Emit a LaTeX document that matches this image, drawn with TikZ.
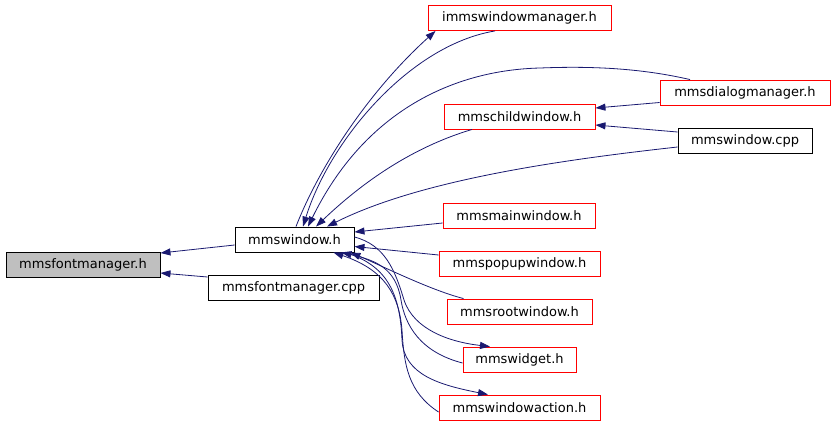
\documentclass[tikz,border=0pt]{standalone}
\usepackage{fontspec}
\setmainfont{DejaVu Sans}
\usepackage{tikz}
\usetikzlibrary{arrows.meta,positioning}
\definecolor{edgeblue}{HTML}{191970}
\definecolor{fillgray}{HTML}{BFBFBF}

\begin{document}
\begin{tikzpicture}[
   x=1pt, y=-1pt,
   file/.style={draw=red, line width=0.9pt, inner sep=0pt, minimum height=25pt,
                font=\fontsize{13}{15}\selectfont},
   doc/.style={file, draw=black},
   inc/.style={-{Triangle[length=10pt,width=7pt]}, draw=edgeblue, fill=none,
               line width=0.8pt}]
  \useasboundingbox (0,0) rectangle (835,424);
  \node[doc, fill=fillgray, minimum width=154pt] (fm)  at (83,264.5)   {mmsfontmanager.h};
  \node[doc, minimum width=119pt]  (win)    at (294.5,239.5) {mmswindow.h};
  \node[doc, minimum width=171pt]  (fmcpp)  at (293.5,288)   {mmsfontmanager.cpp};
  \node[file, minimum width=183pt] (iwm)    at (519.5,18)    {immswindowmanager.h};
  \node[file, minimum width=151pt] (child)  at (519.5,116.5) {mmschildwindow.h};
  \node[file, minimum width=170pt] (dlg)    at (745,92.5)    {mmsdialogmanager.h};
  \node[doc, minimum width=134pt]  (wcpp)   at (745,140.5)   {mmswindow.cpp};
  \node[file, minimum width=152pt] (mainw)  at (519,215.5)   {mmsmainwindow.h};
  \node[file, minimum width=161pt] (popup)  at (519.5,263.5) {mmspopupwindow.h};
  \node[file, minimum width=145pt] (rootw)  at (519.5,311.5) {mmsrootwindow.h};
  \node[file, minimum width=113pt] (widget) at (519.5,359.5) {mmswidget.h};
  \node[file, minimum width=161pt] (action) at (519.5,407.5) {mmswindowaction.h};

  \draw[inc] ([yshift=-5.5pt]win.west) -- ([yshift=11.5pt]fm.east);
  \draw[inc] ([yshift=11pt]fmcpp.west) -- ([yshift=-8.5pt]fm.east);
  \draw[inc] ([xshift=1.5pt]win.north) .. controls (320,165) and (370,90) .. ([xshift=-84pt]iwm.south);
  \draw[inc] ([xshift=-24.5pt]iwm.south) .. controls (410,45) and (330,140) .. ([xshift=8.5pt]win.north);
  \draw[inc] ([xshift=-55pt]dlg.north) .. controls (640,68) and (590,66) .. (540,68)
             .. controls (455,70) and (365,110) .. ([xshift=13.5pt]win.north);
  \draw[inc] ([xshift=-47.5pt]child.south) .. controls (420,145) and (370,175) .. ([xshift=21.5pt]win.north);
  \draw[inc] ([yshift=-6.5pt]wcpp.west) .. controls (560,160) and (420,180) .. ([xshift=32.5pt]win.north);
  \draw[inc] ([yshift=-10pt]dlg.west) -- ([yshift=8.5pt]child.east);
  \draw[inc] ([yshift=8.5pt]wcpp.west) -- ([yshift=-8.5pt]child.east);
  \draw[inc] ([yshift=-7.5pt]mainw.west) -- ([yshift=7.5pt]win.east);
  \draw[inc] ([yshift=8.5pt]popup.west) -- ([yshift=-7pt]win.east);
  \draw[inc] ([xshift=-56pt]rootw.north) .. controls (430,290) and (380,265) .. ([xshift=-4pt]win.south east);
  \draw[inc] ([yshift=-3.5pt]widget.west) .. controls (420,352) and (405,325) .. (401,300)
             .. controls (396,268) and (375,260) .. ([xshift=-13pt]win.south east);
  \draw[inc] ([yshift=-4.5pt]action.west) .. controls (408,392) and (404,365) .. (402,330)
             .. controls (399,295) and (385,270) .. ([xshift=-21pt]win.south east);
  \draw[inc] ([yshift=2.5pt]win.east) .. controls (385,245) and (395,270) .. (404,300)
             .. controls (414,330) and (450,342) .. ([xshift=-29.5pt]widget.north);
  \draw[inc] ([xshift=-9pt]win.south east) .. controls (385,265) and (400,290) .. (402,340)
             .. controls (404,375) and (440,385) .. ([xshift=-31.5pt]action.north);
\end{tikzpicture}
\end{document}
